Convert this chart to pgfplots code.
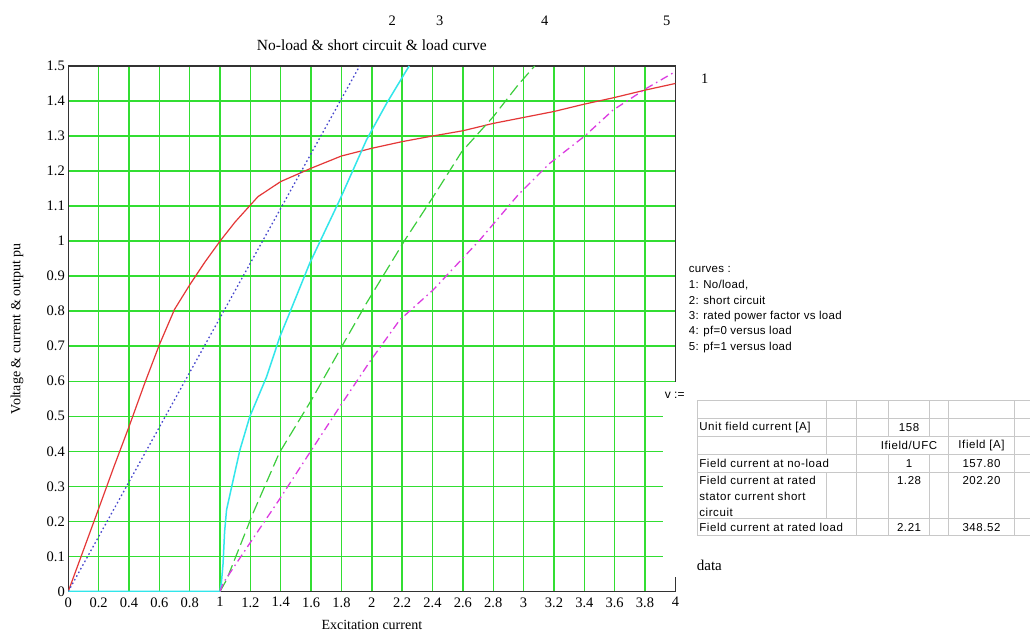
\documentclass[border=0pt]{standalone}
\usepackage{fontspec}
\setmainfont{Liberation Serif}
\setsansfont{Liberation Sans}
\newfontfamily\tabfont[LetterSpace=5]{Liberation Sans}
\newfontfamily\legfont[LetterSpace=2.5]{Liberation Sans}
\usepackage{pgfplots}
\pgfplotsset{compat=1.18}
\definecolor{gridgreen}{RGB}{50,222,50}
\definecolor{cred}{RGB}{228,55,55}
\definecolor{cblue}{RGB}{70,70,205}
\definecolor{ccyan}{RGB}{50,230,235}
\definecolor{cgreen}{RGB}{60,205,60}
\definecolor{cmag}{RGB}{220,60,225}
\definecolor{tabgray}{RGB}{200,200,200}
\newcommand{\fs}[1]{\fontsize{#1bp}{#1bp}\selectfont}
\begin{document}
\begin{tikzpicture}
\begin{scope}[x=1bp,y=1bp]
\fill[white] (0,0) rectangle (1030,632);
\path[use as bounding box] (0,0) rectangle (1030,632);
\end{scope}
\begin{axis}[
  at={(68.3bp,40.3bp)}, anchor=south west,
  scale only axis, width=607.4bp, height=525.7bp,
  xmin=0, xmax=4, ymin=0, ymax=1.5,
  xtick={0,0.2,0.4,0.6,0.8,1,1.2,1.4,1.6,1.8,2,2.2,2.4,2.6,2.8,3,3.2,3.4,3.6,3.8,4},
  xticklabels={0,0.2,0.4,0.6,0.8,1,1.2,1.4,1.6,1.8,2,2.2,2.4,2.6,2.8,3,3.2,3.4,3.6,3.8,4},
  ytick={0,0.1,0.2,0.3,0.4,0.5,0.6,0.7,0.8,0.9,1,1.1,1.2,1.3,1.4,1.5},
  yticklabels={0,0.1,0.2,0.3,0.4,0.5,0.6,0.7,0.8,0.9,1,1.1,1.2,1.3,1.4,1.5},
  grid=major,
  major grid style={draw=gridgreen, line width=1.4bp},
  major tick length=0pt,
  axis line style={draw=black!80, line width=1.1bp},
  ticklabel style={font=\fs{14.5}},
  xticklabel style={yshift=-2.5bp},
  /pgf/number format/assume math mode=true,
  title={No-load \& short circuit \& load curve},
  title style={at={(axis description cs:0.5,1.0285)}, anchor=center, font=\fs{15.5}},
  xlabel={Excitation current},
  xlabel style={at={(axis description cs:0.5,-0.0633)}, anchor=center, font=\fs{14}},
  ylabel={Voltage \& current \& output pu},
  ylabel style={at={(axis description cs:-0.0845,0.5)}, anchor=center, font=\fs{14}},
]
% 1: no-load
\addplot[cred, line width=1.2bp] coordinates {
(0,0) (0.1,0.118) (0.2,0.236) (0.3,0.355) (0.4,0.47) (0.5,0.59) (0.6,0.704) (0.7,0.805)
(0.8,0.875) (0.9,0.94) (1.0,1.0) (1.1,1.055) (1.2,1.103) (1.25,1.127) (1.4,1.17)
(1.6,1.208) (1.8,1.243) (2.0,1.265) (2.2,1.284) (2.4,1.30) (2.6,1.315) (2.8,1.336)
(3.0,1.353) (3.2,1.370) (3.4,1.391) (3.6,1.41) (3.8,1.431) (4.0,1.45)};
% 2: short circuit
\addplot[cblue, line width=1.3bp, dash pattern=on 1.6bp off 2.6bp] coordinates {
(0,0) (1.92,1.5)};
% 3: rated power factor vs load
\addplot[ccyan, line width=1.5bp] coordinates {
(0,0) (1.0,0) (1.01,0.03) (1.02,0.08) (1.03,0.17) (1.043,0.233) (1.087,0.319) (1.131,0.404)
(1.196,0.499) (1.307,0.613) (1.394,0.727) (1.449,0.785) (1.591,0.937) (1.789,1.118)
(1.965,1.289) (2.097,1.393) (2.246,1.50)};
% 4: pf=0 versus load
\addplot[cgreen, line width=1.2bp, dash pattern=on 12bp off 5bp] coordinates {
(1,0) (1.043,0.033) (1.218,0.224) (1.39,0.395) (1.603,0.547) (1.79,0.69) (1.965,0.823)
(2.218,1.003) (2.405,1.127) (2.592,1.255) (2.80,1.355) (2.964,1.446) (3.073,1.50)};
% 5: pf=1 versus load
\addplot[cmag, line width=1.3bp, dash pattern=on 8bp off 4bp on 1.5bp off 4bp] coordinates {
(1,0) (1.021,0.024) (1.197,0.138) (1.39,0.262) (1.603,0.404) (1.79,0.528) (1.987,0.656)
(2.184,0.775) (2.405,0.861) (2.711,1.003) (2.964,1.132) (3.172,1.222) (3.403,1.30)
(3.589,1.374) (3.809,1.436) (4.0,1.484)};
\end{axis}
\begin{scope}[x=1bp,y=1bp]
% curve numbers
\node[font=\fs{14.5}] at (392.5,611) {2};
\node[font=\fs{14.5}] at (440,611) {3};
\node[font=\fs{14.5}] at (545,611) {4};
\node[font=\fs{14.5}] at (667,611) {5};
\node[font=\fs{14.5}] at (705,553) {1};
% legend text
\begin{scope}[every node/.style={anchor=west, inner sep=0pt, font=\legfont\fs{11.5}}]
\node at (689,362) {curves :};
\node at (689,346.5) {1: No/load,};
\node at (689,331) {2: short circuit};
\node at (689,315.5) {3: rated power factor vs load};
\node at (689,300) {4: pf=0 versus load};
\node at (689,284.5) {5: pf=1 versus load};
\end{scope}
% white panel over plot edge
\fill[white] (663,55) rectangle (1030,250);
\node[anchor=west, inner sep=0pt, font=\sffamily\fs{12}] at (665,236) {v :=};
% table
\begin{scope}[draw=tabgray, line width=1bp]
\foreach \yy in {231.3,213,195.3,177.7,159.7,113,96} {\draw (697.7,\yy) -- (1030,\yy);}
\draw (697.7,231.3) -- (697.7,96);
\draw (827,231.3) -- (827,177.7);
\draw (827,159.7) -- (827,113);
\draw (857,231.3) -- (857,96);
\draw (889,231.3) -- (889,195.3);
\draw (889,177.7) -- (889,96);
\draw (930,231.3) -- (930,195.3);
\draw (930,177.7) -- (930,96);
\draw (949,231.3) -- (949,96);
\draw (1015,231.3) -- (1015,96);
\end{scope}
\begin{scope}[every node/.style={inner sep=0pt, font=\tabfont\fs{11.5}}]
\node[anchor=west] at (699.5,204) {Unit field current [A]};
\node at (909.5,204) {158};
\node at (909.5,186.5) {Ifield/UFC};
\node at (982,186.5) {Ifield [A]};
\node[anchor=west] at (699.5,168.7) {Field current at no-load};
\node at (909.5,168.7) {1};
\node at (982,168.7) {157.80};
\node[anchor=west] at (699.5,151.3) {Field current at rated};
\node[anchor=west] at (699.5,135.3) {stator current short};
\node[anchor=west] at (699.5,119.7) {circuit};
\node at (909.5,151.3) {1.28};
\node at (982,151.3) {202.20};
\node[anchor=west] at (699.5,104.5) {Field current at rated load};
\node at (909.5,104.5) {2.21};
\node at (982,104.5) {348.52};
\end{scope}
\node[anchor=west, inner sep=0pt, font=\fs{15}] at (697,66) {data};
\end{scope}
\end{tikzpicture}
\end{document}
